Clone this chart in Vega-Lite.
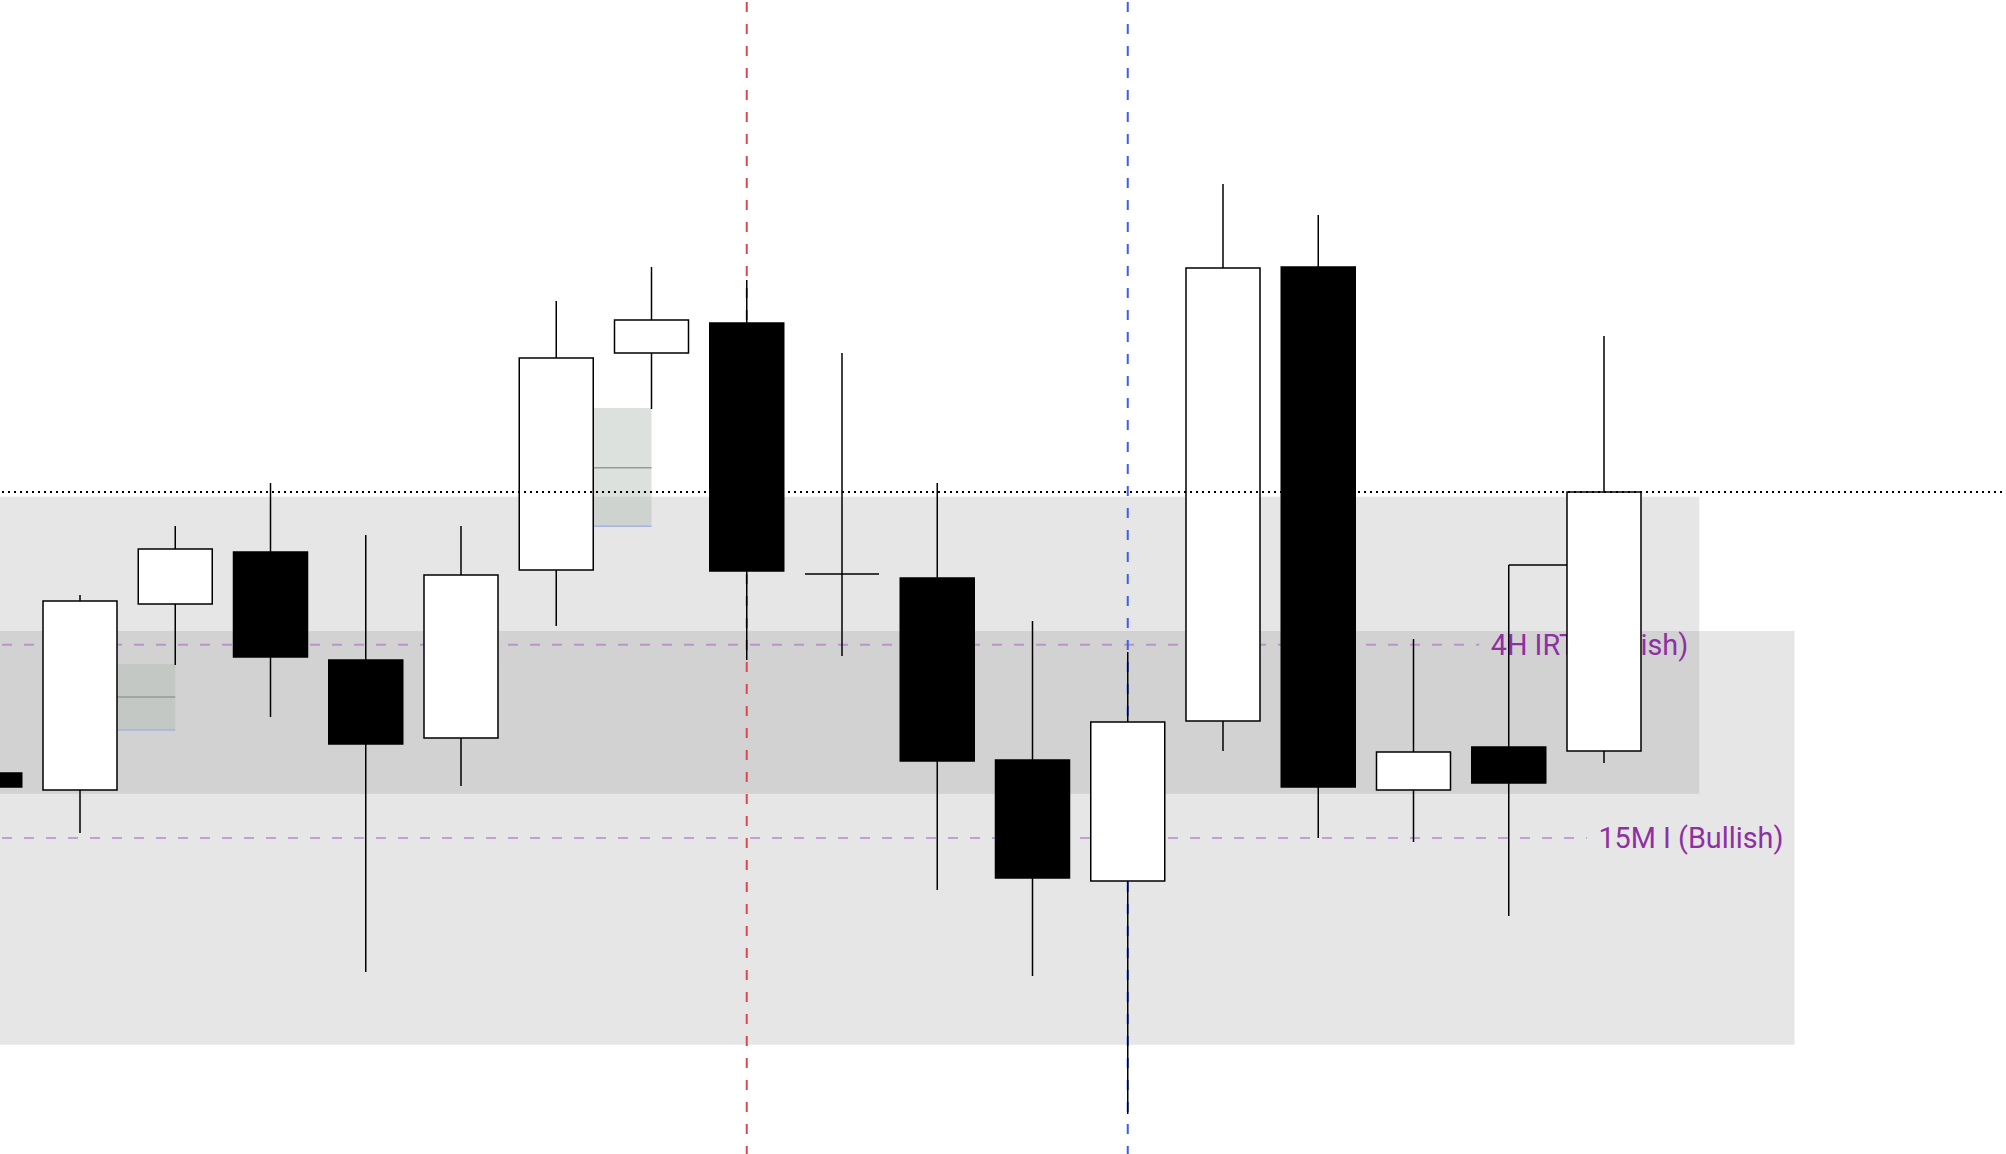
{
  "$schema": "https://vega.github.io/schema/vega-lite/v6.json",
  "width": 2006,
  "height": 1154,
  "autosize": {"type": "none"},
  "padding": 0,
  "background": "white",
  "config": {"view": {"stroke": null}, "scale": {"continuousPadding": 0}},
  "datasets": {
    "candles": [
      {"i": 0, "open": 38.1, "high": 38.1, "low": 36.7, "close": 36.7},
      {"i": 1, "open": 36.4, "high": 55.9, "low": 32.1, "close": 55.3},
      {"i": 2, "open": 55.0, "high": 62.8, "low": 48.9, "close": 60.5},
      {"i": 3, "open": 60.2, "high": 67.1, "low": 43.7, "close": 49.7},
      {"i": 4, "open": 49.4, "high": 61.9, "low": 18.2, "close": 41.0},
      {"i": 5, "open": 41.6, "high": 62.8, "low": 36.8, "close": 57.9},
      {"i": 6, "open": 58.4, "high": 85.3, "low": 52.8, "close": 79.6},
      {"i": 7, "open": 80.1, "high": 88.7, "low": 74.5, "close": 83.4},
      {"i": 8, "open": 83.1, "high": 87.4, "low": 49.4, "close": 58.3},
      {"i": 9, "open": 58.0, "high": 80.1, "low": 49.8, "close": 58.0},
      {"i": 10, "open": 57.6, "high": 67.1, "low": 26.4, "close": 39.3},
      {"i": 11, "open": 39.4, "high": 53.3, "low": 17.8, "close": 27.6},
      {"i": 12, "open": 27.3, "high": 50.2, "low": 4.0, "close": 43.2},
      {"i": 13, "open": 43.3, "high": 97.0, "low": 40.3, "close": 88.6},
      {"i": 14, "open": 88.7, "high": 93.9, "low": 31.6, "close": 36.7},
      {"i": 15, "open": 36.4, "high": 51.5, "low": 31.2, "close": 40.2},
      {"i": 16, "open": 40.7, "high": 58.9, "low": 23.8, "close": 37.1},
      {"i": 17, "open": 40.3, "high": 81.8, "low": 39.1, "close": 66.2}
    ],
    "zones": [
      {"name": "4H", "from": 0.1601, "to": 18.0, "top": 65.73, "bottom": 36.03},
      {"name": "15M", "from": 0.1601, "to": 19.0, "top": 52.3, "bottom": 10.93}
    ],
    "gaps": [
      {"from": 1.388, "to": 2.0, "top": 49.0, "bottom": 42.4, "mid": 45.7},
      {"from": 6.394, "to": 7.0, "top": 74.6, "bottom": 62.77, "mid": 68.63}
    ],
    "purpleLevels": [
      {"name": "4H IRT (Bullish)", "price": 50.93, "from": 0.1601, "to": 15.69, "end": 18.0},
      {"name": "15M I (Bullish)", "price": 31.6, "from": 0.1601, "to": 16.82, "end": 19.0}
    ],
    "highLine": [
      {"price": 58.9, "from": 16, "to": 17}
    ],
    "dotted": [
      {"price": 66.2, "from": 0.1601, "to": 21.2205}
    ],
    "vlines": [
      {"i": 8, "color": "#de4650", "top": 115.4, "bottom": 0},
      {"i": 12, "color": "#3a5ef0", "top": 115.4, "bottom": 0}
    ]
  },
  "layer": [
    {
      "data": {"name": "zones"},
      "mark": {"type": "rect", "fill": "#808080", "opacity": 0.2},
      "encoding": {
        "x": {"field": "from", "type": "quantitative", "scale": {"domain": [0.1601, 21.2205], "nice": false, "zero": false, "padding": 0}, "axis": null},
        "x2": {"field": "to"},
        "y": {"field": "top", "type": "quantitative", "scale": {"domain": [0, 115.4], "nice": false, "zero": false, "padding": 0}, "axis": null},
        "y2": {"field": "bottom"}
      }
    },
    {
      "data": {"name": "gaps"},
      "mark": {"type": "rect", "fill": "rgb(175,187,178)", "opacity": 0.44},
      "encoding": {
        "x": {"field": "from", "type": "quantitative", "scale": {"domain": [0.1601, 21.2205], "nice": false, "zero": false, "padding": 0}, "axis": null},
        "x2": {"field": "to"},
        "y": {"field": "top", "type": "quantitative", "scale": {"domain": [0, 115.4], "nice": false, "zero": false, "padding": 0}, "axis": null},
        "y2": {"field": "bottom"}
      }
    },
    {
      "data": {"name": "gaps"},
      "mark": {"type": "rule", "color": "#979b98", "strokeWidth": 1.6},
      "encoding": {
        "x": {"field": "from", "type": "quantitative", "scale": {"domain": [0.1601, 21.2205], "nice": false, "zero": false, "padding": 0}, "axis": null},
        "x2": {"field": "to"},
        "y": {"field": "mid", "type": "quantitative", "scale": {"domain": [0, 115.4], "nice": false, "zero": false, "padding": 0}, "axis": null}
      }
    },
    {
      "data": {"name": "gaps"},
      "mark": {"type": "rule", "color": "#a4b4de", "strokeWidth": 1.6},
      "encoding": {
        "x": {"field": "from", "type": "quantitative", "scale": {"domain": [0.1601, 21.2205], "nice": false, "zero": false, "padding": 0}, "axis": null},
        "x2": {"field": "to"},
        "y": {"field": "bottom", "type": "quantitative", "scale": {"domain": [0, 115.4], "nice": false, "zero": false, "padding": 0}, "axis": null}
      }
    },
    {
      "data": {"name": "purpleLevels"},
      "mark": {"type": "rule", "color": "#9b4bbe", "opacity": 0.45, "strokeWidth": 2, "strokeDash": [10, 12], "strokeDashOffset": 20},
      "encoding": {
        "x": {"field": "from", "type": "quantitative", "scale": {"domain": [0.1601, 21.2205], "nice": false, "zero": false, "padding": 0}, "axis": null},
        "x2": {"field": "to"},
        "y": {"field": "price", "type": "quantitative", "scale": {"domain": [0, 115.4], "nice": false, "zero": false, "padding": 0}, "axis": null}
      }
    },
    {
      "data": {"name": "purpleLevels"},
      "mark": {"type": "text", "align": "right", "baseline": "middle", "dx": -11, "dy": 1, "font": "Roboto", "fontSize": 28.8, "color": "#8f2fa3"},
      "encoding": {
        "x": {"field": "end", "type": "quantitative", "scale": {"domain": [0.1601, 21.2205], "nice": false, "zero": false, "padding": 0}, "axis": null},
        "y": {"field": "price", "type": "quantitative", "scale": {"domain": [0, 115.4], "nice": false, "zero": false, "padding": 0}, "axis": null},
        "text": {"field": "name"}
      }
    },
    {
      "data": {"name": "vlines"},
      "mark": {"type": "rule", "strokeWidth": 2, "strokeDash": [10, 12], "strokeDashOffset": 20},
      "encoding": {
        "x": {"field": "i", "type": "quantitative", "scale": {"domain": [0.1601, 21.2205], "nice": false, "zero": false, "padding": 0}, "axis": null},
        "y": {"field": "top", "type": "quantitative", "scale": {"domain": [0, 115.4], "nice": false, "zero": false, "padding": 0}, "axis": null},
        "y2": {"field": "bottom"},
        "color": {"field": "color", "type": "nominal", "scale": null}
      }
    },
    {
      "data": {"name": "highLine"},
      "mark": {"type": "rule", "color": "black", "strokeWidth": 1.5},
      "encoding": {
        "x": {"field": "from", "type": "quantitative", "scale": {"domain": [0.1601, 21.2205], "nice": false, "zero": false, "padding": 0}, "axis": null},
        "x2": {"field": "to"},
        "y": {"field": "price", "type": "quantitative", "scale": {"domain": [0, 115.4], "nice": false, "zero": false, "padding": 0}, "axis": null}
      }
    },
    {
      "data": {"name": "candles"},
      "mark": {"type": "rule", "color": "black", "strokeWidth": 1.5, "clip": true},
      "encoding": {
        "x": {"field": "i", "type": "quantitative", "scale": {"domain": [0.1601, 21.2205], "nice": false, "zero": false, "padding": 0}, "axis": null},
        "y": {"field": "high", "type": "quantitative", "scale": {"domain": [0, 115.4], "nice": false, "zero": false, "padding": 0}, "axis": null},
        "y2": {"field": "low"}
      }
    },
    {
      "data": {"name": "candles"},
      "mark": {"type": "bar", "size": 74, "stroke": "black", "strokeWidth": 1.5, "clip": true},
      "encoding": {
        "x": {"field": "i", "type": "quantitative", "scale": {"domain": [0.1601, 21.2205], "nice": false, "zero": false, "padding": 0}, "axis": null},
        "y": {"field": "open", "type": "quantitative", "scale": {"domain": [0, 115.4], "nice": false, "zero": false, "padding": 0}, "axis": null},
        "y2": {"field": "close"},
        "fill": {"condition": {"test": "datum.close >= datum.open", "value": "white"}, "value": "black"}
      }
    },
    {
      "data": {"name": "dotted"},
      "mark": {"type": "rule", "color": "black", "strokeWidth": 2, "strokeDash": [2, 4], "strokeDashOffset": 4},
      "encoding": {
        "x": {"field": "from", "type": "quantitative", "scale": {"domain": [0.1601, 21.2205], "nice": false, "zero": false, "padding": 0}, "axis": null},
        "x2": {"field": "to"},
        "y": {"field": "price", "type": "quantitative", "scale": {"domain": [0, 115.4], "nice": false, "zero": false, "padding": 0}, "axis": null}
      }
    }
  ]
}
